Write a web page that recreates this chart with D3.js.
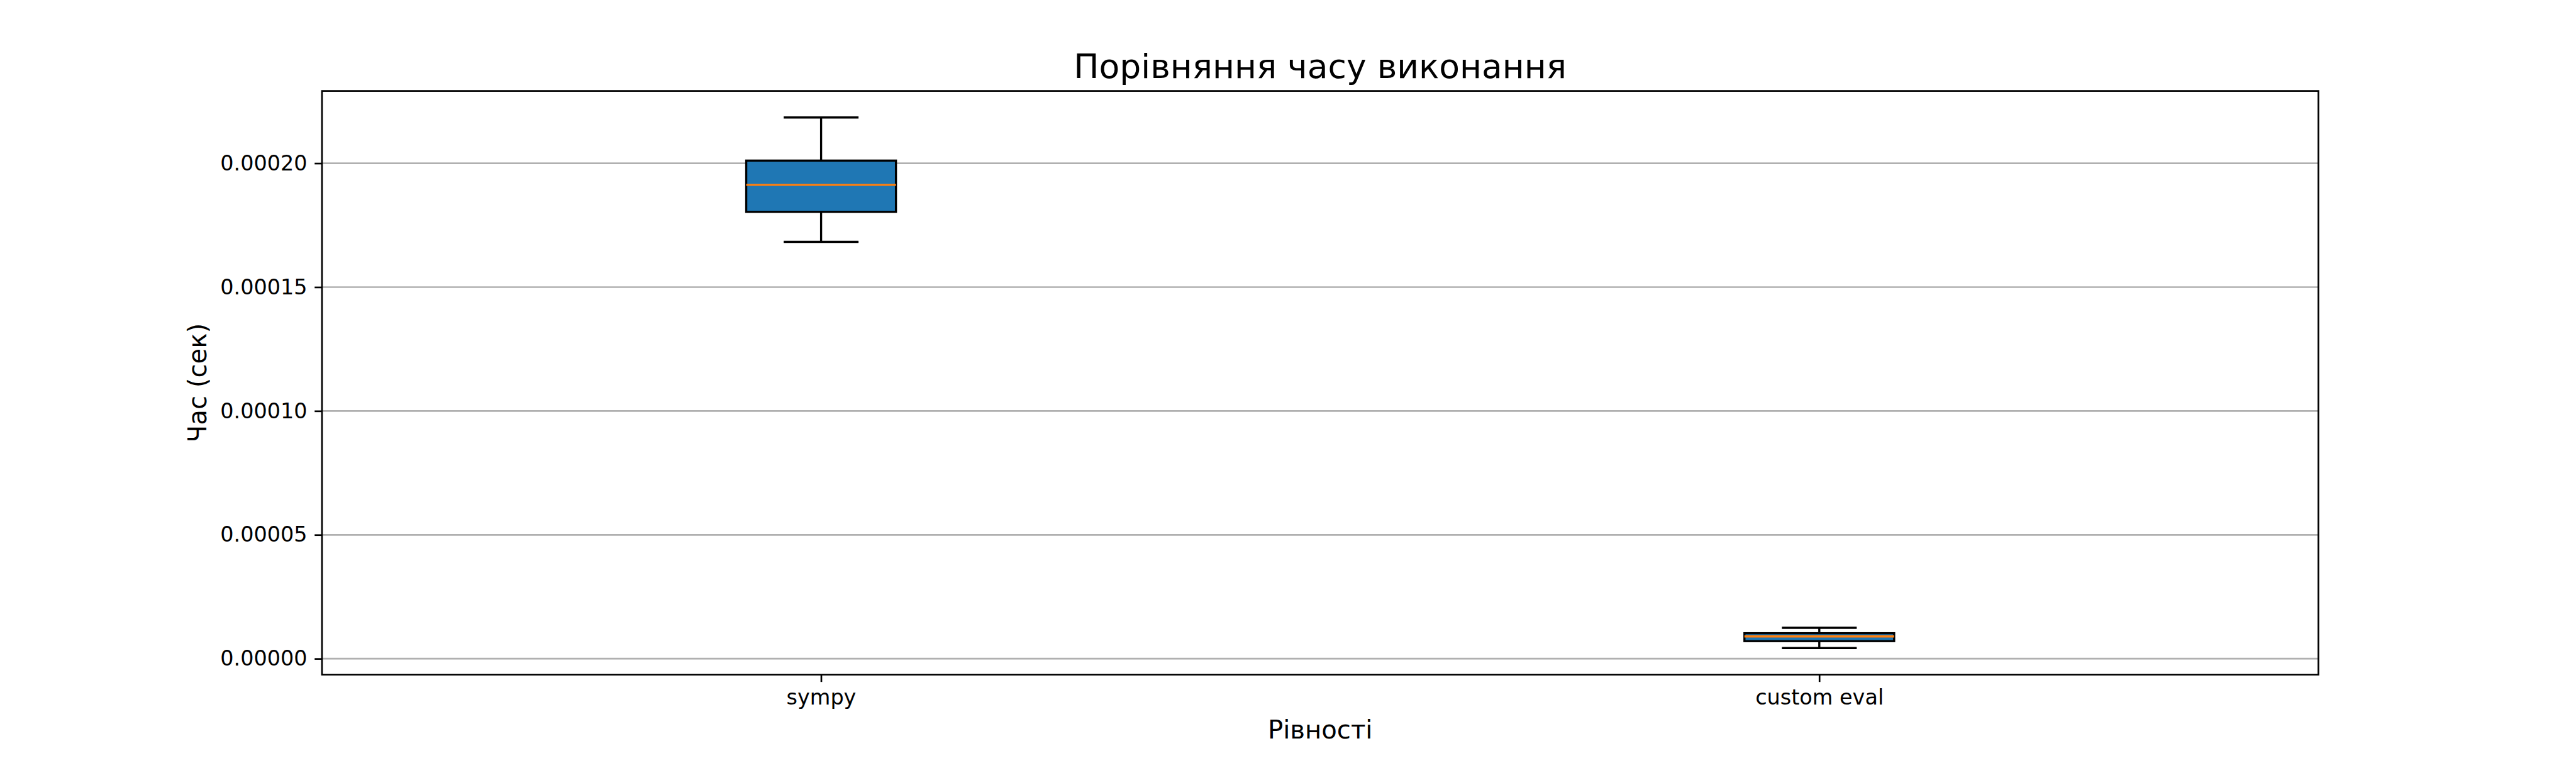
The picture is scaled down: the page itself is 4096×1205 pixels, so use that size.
<!DOCTYPE html>
<html>
<head>
<meta charset="utf-8">
<script src="https://cdn.jsdelivr.net/npm/d3@7"></script>
<style>
html,body{margin:0;padding:0;background:#fff;}
svg{display:block;}
text{font-family:"DejaVu Sans",sans-serif;fill:#000;}
</style>
</head>
<body>
<script>
// ---- data ----
const categories = ["sympy", "custom eval"];
const positions = [1, 2];
const whiskerLow = [0.0001683, 0.0000043];
const q1 = [0.0001804, 0.0000071];
const median = [0.0001913, 0.0000090];
const q3 = [0.0002011, 0.0000103];
const whiskerHigh = [0.0002185, 0.0000125];
const yTicks = [0, 0.00005, 0.0001, 0.00015, 0.0002];
const yTickLabels = ["0.00000", "0.00005", "0.00010", "0.00015", "0.00020"];
const titleText = "Порівняння часу виконання";
const xLabelText = "Рівності";
const yLabelText = "Час (сек)";

(function () {
// ---- layout (reference units, 5100x1500, drawn at 0.803) ----
const W = 5100, H = 1500;
const mLeft = 637.5, mRight = 4590, mTop = 180, mBottom = 1335;
const pt = 300 / 72;

const svg = d3.select("body").append("svg")
  .attr("width", 4096).attr("height", 1205)
  .attr("viewBox", `0 0 ${W} ${H}`)
  .attr("preserveAspectRatio", "none");
svg.append("rect").attr("width", W).attr("height", H).attr("fill", "#fff");

const dmin = d3.min(whiskerLow), dmax = d3.max(whiskerHigh);
const span = dmax - dmin;
const y = d3.scaleLinear().domain([dmin - 0.05 * span, dmax + 0.05 * span]).range([mBottom, mTop]);
const x = d3.scaleLinear().domain([0.5, 2.5]).range([mLeft, mRight]);
const boxW = 0.15;

// grid
svg.append("g").selectAll("line").data(yTicks).join("line")
  .attr("x1", mLeft).attr("x2", mRight)
  .attr("y1", d => y(d)).attr("y2", d => y(d))
  .attr("stroke", "#b0b0b0").attr("stroke-width", 0.8 * pt);

// boxes
const data = categories.map((c, i) => ({c, p: positions[i], lo: whiskerLow[i], q1: q1[i], med: median[i], q3: q3[i], hi: whiskerHigh[i]}));
const g = svg.append("g");
const lw = 1 * pt;
data.forEach(d => {
  const cx = x(d.p);
  const x0 = x(d.p - boxW / 2), x1 = x(d.p + boxW / 2);
  const c0 = x(d.p - boxW / 4), c1 = x(d.p + boxW / 4);
  g.append("line").attr("x1", cx).attr("x2", cx).attr("y1", y(d.q1)).attr("y2", y(d.lo)).attr("stroke", "#000").attr("stroke-width", lw);
  g.append("line").attr("x1", cx).attr("x2", cx).attr("y1", y(d.q3)).attr("y2", y(d.hi)).attr("stroke", "#000").attr("stroke-width", lw);
  g.append("line").attr("x1", c0).attr("x2", c1).attr("y1", y(d.lo)).attr("y2", y(d.lo)).attr("stroke", "#000").attr("stroke-width", lw);
  g.append("line").attr("x1", c0).attr("x2", c1).attr("y1", y(d.hi)).attr("y2", y(d.hi)).attr("stroke", "#000").attr("stroke-width", lw);
  g.append("rect").attr("x", x0).attr("width", x1 - x0)
    .attr("y", y(d.q3)).attr("height", y(d.q1) - y(d.q3))
    .attr("fill", "#1f77b4").attr("stroke", "#000").attr("stroke-width", lw);
  g.append("line").attr("x1", x0).attr("x2", x1).attr("y1", y(d.med)).attr("y2", y(d.med)).attr("stroke", "#ff7f0e").attr("stroke-width", lw);
});

// y axis
const yAxis = d3.axisLeft(y).tickValues(yTicks)
  .tickFormat((d, i) => yTickLabels[i])
  .tickSize(3.5 * pt).tickPadding(3.5 * pt);
const ya = svg.append("g").attr("transform", `translate(${mLeft},0)`).call(yAxis);
ya.select(".domain").remove();
ya.selectAll(".tick line").attr("stroke", "#000").attr("stroke-width", 0.8 * pt);
ya.selectAll(".tick text").attr("font-size", 10 * pt).attr("font-family", "DejaVu Sans").attr("fill", "#000");

// x axis
const xAxis = d3.axisBottom(x).tickValues(positions)
  .tickFormat((d, i) => categories[i])
  .tickSize(3.5 * pt).tickPadding(3.5 * pt);
const xa = svg.append("g").attr("transform", `translate(0,${mBottom})`).call(xAxis);
xa.select(".domain").remove();
xa.selectAll(".tick line").attr("stroke", "#000").attr("stroke-width", 0.8 * pt);
xa.selectAll(".tick text").attr("font-size", 10 * pt).attr("font-family", "DejaVu Sans").attr("fill", "#000");

// spines
svg.append("rect").attr("x", mLeft).attr("y", mTop).attr("width", mRight - mLeft).attr("height", mBottom - mTop)
  .attr("fill", "none").attr("stroke", "#000").attr("stroke-width", 0.8 * pt);

// title and labels
svg.append("text").attr("x", (mLeft + mRight) / 2).attr("y", 154.5)
  .attr("text-anchor", "middle").attr("font-size", 16 * pt).text(titleText);
svg.append("text").attr("x", (mLeft + mRight) / 2).attr("y", 1461.5)
  .attr("text-anchor", "middle").attr("font-size", 12 * pt).text(xLabelText);
svg.append("text").attr("transform", `translate(408,${(mTop + mBottom) / 2}) rotate(-90)`)
  .attr("text-anchor", "middle").attr("font-size", 12 * pt).text(yLabelText);
})();
</script>
</body>
</html>
